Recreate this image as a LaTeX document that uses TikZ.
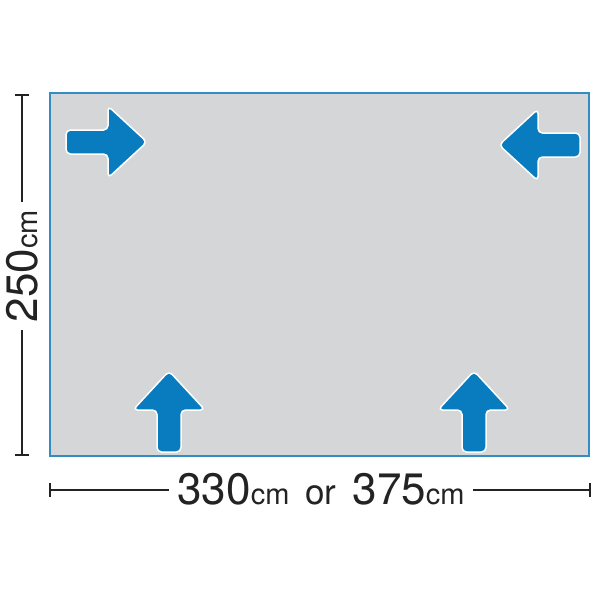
\documentclass[tikz,border=0pt]{standalone}
\usepackage{fontspec}
\setmainfont{TeX Gyre Heros}
\definecolor{panel}{RGB}{213,214,215}
\definecolor{edge}{RGB}{52,140,196}
\definecolor{arrowblue}{RGB}{8,124,190}
\definecolor{dimline}{RGB}{35,35,35}
\newcommand{\digtxt}[1]{{\fontsize{44}{44}\selectfont #1}}
\newcommand{\unittxt}[1]{{\fontsize{29}{29}\selectfont #1}}
\newcommand{\ortxt}[1]{{\fontsize{35}{35}\selectfont #1}}
\tikzset{
  arr/.style={fill=arrowblue, draw=white, line width=1.5pt, rounded corners=4.5pt, line join=round},
  bigarrow/.pic={\path[arr] (0,0) -- (-39,36) -- (-39,12) -- (-81,12) -- (-81,-12) -- (-39,-12) -- (-39,-36) -- cycle;},
  dim/.style={draw=dimline, line width=1.3pt},
  lbl/.style={fill=white, inner xsep=8pt, inner ysep=0pt, text=dimline}
}
\begin{document}
\begin{tikzpicture}[x=1pt,y=-1pt]
\useasboundingbox (0,0) rectangle (600,600);
\fill[white] (0,0) rectangle (600,600);
\draw[edge, fill=panel, line width=2pt] (50,93) rectangle (589,456);
\pic at (147,142) {bigarrow};
\pic[rotate=180] at (499,145) {bigarrow};
\pic[rotate=90] at (169,371) {bigarrow};
\pic[rotate=90] at (474,371) {bigarrow};
% vertical dimension
\coordinate (vt) at (22,95);
\coordinate (vb) at (22,455);
\node[lbl, rotate=90, anchor=center] (vlab) at (22,266) {\digtxt{250}\unittxt{cm}};
\draw[dim] (vt) -- (vlab.east);
\draw[dim] (vlab.west) -- (vb);
\draw[dim] (15,95) -- (29,95);
\draw[dim] (15,455) -- (29,455);
% horizontal dimension
\coordinate (hl) at (50,490);
\coordinate (hr) at (590,490);
\node[lbl, anchor=center] (hlab) at (321,489) {\digtxt{330}\unittxt{cm}\hspace{16pt}\ortxt{or}\hspace{16pt}\digtxt{375}\unittxt{cm}};
\draw[dim] (hl) -- (hlab.west |- hl);
\draw[dim] (hlab.east |- hr) -- (hr);
\draw[dim] (50,483) -- (50,497);
\draw[dim] (590,483) -- (590,497);
\end{tikzpicture}
\end{document}
